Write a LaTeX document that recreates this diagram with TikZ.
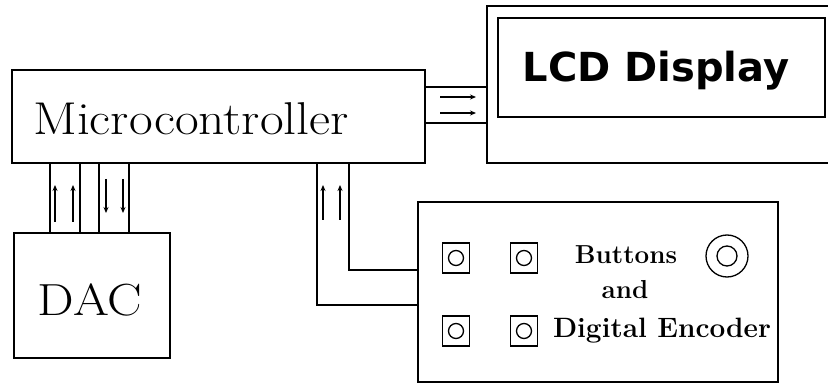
\documentclass[tikz,border=0pt]{standalone}
\usepackage{fontspec}
\newfontfamily\lcdfont{DejaVu Sans}
\usetikzlibrary{arrows.meta}
\begin{document}
\begin{tikzpicture}[x=1pt,y=-1pt,
  box/.style={draw, line width=1.5pt, inner sep=0pt, outer sep=0pt, anchor=north west},
  wire/.style={line width=1.5pt},
  sig/.style={line width=1.1pt, -{Stealth[length=6pt,width=5pt]}},
  btn/.style={draw, line width=1.4pt, minimum width=27pt, minimum height=30pt, inner sep=0pt},
  knob/.style={draw, circle, line width=1.3pt, inner sep=0pt}]
\clip (0,0) rectangle (828,385);
\fill[white] (0,0) rectangle (828,385);
% boxes
\node[box, minimum width=413pt, minimum height=93pt] (mc) at (12,70) {};
\node[box, minimum width=156pt, minimum height=125pt] (dac) at (14,233) {};
\node[box, minimum width=360pt, minimum height=180pt] (bt) at (418,202) {};
\node[box, minimum width=380pt, minimum height=157pt] (lcd) at (487,6) {};
\node[box, minimum width=327pt, minimum height=99pt] (lcdin) at (498,18) {};
% texts
\node[anchor=base, inner sep=0pt, font=\fontsize{46}{50}\selectfont, xscale=1.12] (mct) at (191,135) {Microcontroller};
\node[anchor=base, inner sep=0pt, font=\fontsize{45}{50}\selectfont, xscale=1.15] (dact) at (90,315) {DAC};
\node[anchor=base, inner sep=0pt, font=\lcdfont\bfseries\fontsize{40}{44}\selectfont] (lcdt) at (656,82) {LCD Display};
\node[anchor=base, inner sep=0pt, font=\bfseries\fontsize{26}{30}\selectfont] (bt1) at (626,263) {Buttons};
\node[anchor=base, inner sep=0pt, font=\bfseries\fontsize{26}{30}\selectfont] (bt2) at (625,298) {and};
\node[anchor=base, inner sep=0pt, font=\bfseries\fontsize{28}{30}\selectfont] (bt3) at (662,337) {Digital Encoder};
% buttons
\foreach \n/\x/\y in {b1/456/258, b2/524/258, b3/456/331, b4/524/331}{
  \node[btn] (\n) at (\x,\y) {};
  \node[knob, minimum size=15pt] (\n c) at (\n) {};
}
\node[knob, minimum size=42pt] (enc) at (727,256) {};
\node[knob, minimum size=20pt] (encin) at (enc) {};
% mc - dac wires
\foreach \x in {50,80,99,129}{
  \draw[wire] (mc.south -| \x,0) -- (dac.north -| \x,0);
}
\draw[sig] (55,222) -- (55,185);
\draw[sig] (73,222) -- (73,185);
\draw[sig] (106,179) -- (106,213);
\draw[sig] (123,179) -- (123,213);
% mc - buttons wires
\draw[wire] (mc.south -| 349,0) |- (bt.west |- 0,270);
\draw[wire] (mc.south -| 317,0) |- (bt.west |- 0,305);
\draw[sig] (323,220) -- (323,185);
\draw[sig] (340,220) -- (340,185);
% mc - lcd wires
\draw[wire] (mc.east |- 0,87) -- (lcd.west |- 0,87);
\draw[wire] (mc.east |- 0,123) -- (lcd.west |- 0,123);
\draw[sig] (440,97) -- (476,97);
\draw[sig] (440,113) -- (476,113);
\end{tikzpicture}
\end{document}
